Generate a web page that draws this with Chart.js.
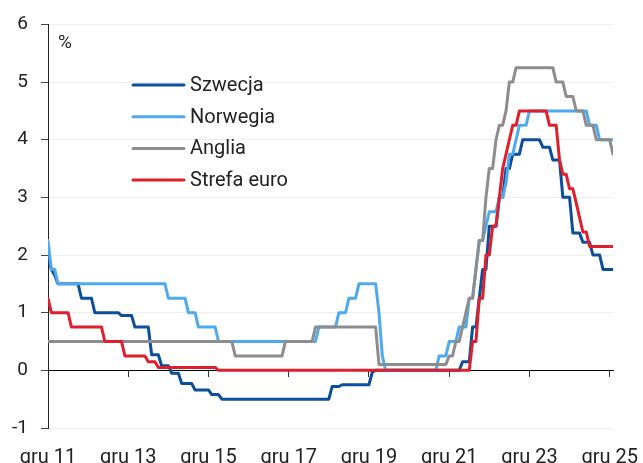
<!DOCTYPE html>
<html>
<head>
<meta charset="utf-8">
<script src="https://cdn.jsdelivr.net/npm/chart.js@4/dist/chart.umd.min.js"></script>
<style>
  html, body { margin: 0; padding: 0; background: #fff; }
</style>
</head>
<body>
<canvas id="chart" width="643" height="463"></canvas>
<script>
// x positions are months, index 0 = gru 11, one tick every 24 months
const tickLabels = ['gru 11', 'gru 13', 'gru 15', 'gru 17', 'gru 19', 'gru 21', 'gru 23', 'gru 25'];
const seriesNames = ['Szwecja', 'Norwegia', 'Anglia', 'Strefa euro'];
const seriesColors = ['#0b4f9c', '#4ea9ef', '#8d8d8d', '#e01f2d'];

const szwecja = [
  2.0,
  1.75, 1.65, 1.5, 1.5, 1.5, 1.5, 1.5, 1.5, 1.5, 1.25, 1.25, 1.25,
  1.25, 1.0, 1.0, 1.0, 1.0, 1.0, 1.0, 1.0, 1.0, 0.95, 0.95, 0.95,
  0.95, 0.75, 0.75, 0.75, 0.75, 0.75, 0.27, 0.27, 0.27, 0.08, 0.08, 0.08,
  -0.05, -0.05, -0.05, -0.23, -0.23, -0.23, -0.23, -0.34, -0.34, -0.34, -0.34, -0.34,
  -0.42, -0.42, -0.42, -0.5, -0.5, -0.5, -0.5, -0.5, -0.5, -0.5, -0.5, -0.5,
  -0.5, -0.5, -0.5, -0.5, -0.5, -0.5, -0.5, -0.5, -0.5, -0.5, -0.5, -0.5,
  -0.5, -0.5, -0.5, -0.5, -0.5, -0.5, -0.5, -0.5, -0.5, -0.5, -0.5, -0.5,
  -0.28, -0.28, -0.28, -0.25, -0.25, -0.25, -0.25, -0.25, -0.25, -0.25, -0.25, -0.25,
  -0.03, 0, 0, 0, 0, 0, 0, 0, 0, 0, 0, 0,
  0, 0, 0, 0, 0, 0, 0, 0, 0, 0, 0, 0,
  0, 0, 0, 0.15, 0.15, 0.15, 0.75, 0.75, 1.25, 1.75, 1.75, 2.5,
  2.5, 2.5, 3.0, 3.0, 3.5, 3.5, 3.75, 3.75, 3.75, 4.0, 4.0, 4.0,
  4.0, 4.0, 4.0, 3.87, 3.87, 3.87, 3.65, 3.65, 3.65, 3.0, 3.0, 3.0,
  2.38, 2.38, 2.38, 2.22, 2.22, 2.22, 2.0, 2.0, 2.0, 1.75, 1.75, 1.75,
  1.75
];

const norwegia = [
  2.25,
  1.75, 1.75, 1.5, 1.5, 1.5, 1.5, 1.5, 1.5, 1.5, 1.5, 1.5, 1.5,
  1.5, 1.5, 1.5, 1.5, 1.5, 1.5, 1.5, 1.5, 1.5, 1.5, 1.5, 1.5,
  1.5, 1.5, 1.5, 1.5, 1.5, 1.5, 1.5, 1.5, 1.5, 1.5, 1.5, 1.25,
  1.25, 1.25, 1.25, 1.25, 1.25, 1.0, 1.0, 1.0, 0.75, 0.75, 0.75, 0.75,
  0.75, 0.75, 0.5, 0.5, 0.5, 0.5, 0.5, 0.5, 0.5, 0.5, 0.5, 0.5,
  0.5, 0.5, 0.5, 0.5, 0.5, 0.5, 0.5, 0.5, 0.5, 0.5, 0.5, 0.5,
  0.5, 0.5, 0.5, 0.5, 0.5, 0.5, 0.5, 0.5, 0.75, 0.75, 0.75, 0.75,
  0.75, 0.75, 1.0, 1.0, 1.0, 1.25, 1.25, 1.25, 1.5, 1.5, 1.5, 1.5,
  1.5, 1.5, 1.0, 0.25, 0, 0, 0, 0, 0, 0, 0, 0,
  0, 0, 0, 0, 0, 0, 0, 0, 0.25, 0.25, 0.25, 0.5,
  0.5, 0.5, 0.75, 0.75, 0.75, 1.25, 1.25, 1.75, 2.25, 2.25, 2.5, 2.75,
  2.75, 2.75, 3.0, 3.0, 3.25, 3.75, 3.75, 4.0, 4.25, 4.25, 4.25, 4.5,
  4.5, 4.5, 4.5, 4.5, 4.5, 4.5, 4.5, 4.5, 4.5, 4.5, 4.5, 4.5,
  4.5, 4.5, 4.5, 4.5, 4.5, 4.25, 4.25, 4.25, 4.0, 4.0, 4.0, 4.0,
  4.0
];

const anglia = [
  0.5,
  0.5, 0.5, 0.5, 0.5, 0.5, 0.5, 0.5, 0.5, 0.5, 0.5, 0.5, 0.5,
  0.5, 0.5, 0.5, 0.5, 0.5, 0.5, 0.5, 0.5, 0.5, 0.5, 0.5, 0.5,
  0.5, 0.5, 0.5, 0.5, 0.5, 0.5, 0.5, 0.5, 0.5, 0.5, 0.5, 0.5,
  0.5, 0.5, 0.5, 0.5, 0.5, 0.5, 0.5, 0.5, 0.5, 0.5, 0.5, 0.5,
  0.5, 0.5, 0.5, 0.5, 0.5, 0.5, 0.5, 0.25, 0.25, 0.25, 0.25, 0.25,
  0.25, 0.25, 0.25, 0.25, 0.25, 0.25, 0.25, 0.25, 0.25, 0.25, 0.5, 0.5,
  0.5, 0.5, 0.5, 0.5, 0.5, 0.5, 0.5, 0.75, 0.75, 0.75, 0.75, 0.75,
  0.75, 0.75, 0.75, 0.75, 0.75, 0.75, 0.75, 0.75, 0.75, 0.75, 0.75, 0.75,
  0.75, 0.75, 0.1, 0.1, 0.1, 0.1, 0.1, 0.1, 0.1, 0.1, 0.1, 0.1,
  0.1, 0.1, 0.1, 0.1, 0.1, 0.1, 0.1, 0.1, 0.1, 0.1, 0.1, 0.25,
  0.25, 0.5, 0.5, 0.75, 1.0, 1.25, 1.25, 1.75, 2.25, 2.25, 3.0, 3.5,
  3.5, 4.0, 4.25, 4.25, 4.5, 5.0, 5.0, 5.25, 5.25, 5.25, 5.25, 5.25,
  5.25, 5.25, 5.25, 5.25, 5.25, 5.25, 5.25, 5.0, 5.0, 5.0, 4.75, 4.75,
  4.75, 4.5, 4.5, 4.5, 4.25, 4.25, 4.25, 4.0, 4.0, 4.0, 4.0, 4.0,
  3.75
];

const strefaEuro = [
  1.25,
  1.0, 1.0, 1.0, 1.0, 1.0, 1.0, 0.75, 0.75, 0.75, 0.75, 0.75, 0.75,
  0.75, 0.75, 0.75, 0.75, 0.5, 0.5, 0.5, 0.5, 0.5, 0.5, 0.25, 0.25,
  0.25, 0.25, 0.25, 0.25, 0.25, 0.15, 0.15, 0.15, 0.05, 0.05, 0.05, 0.05,
  0.05, 0.05, 0.05, 0.05, 0.05, 0.05, 0.05, 0.05, 0.05, 0.05, 0.05, 0.05,
  0.05, 0.05, 0, 0, 0, 0, 0, 0, 0, 0, 0, 0,
  0, 0, 0, 0, 0, 0, 0, 0, 0, 0, 0, 0,
  0, 0, 0, 0, 0, 0, 0, 0, 0, 0, 0, 0,
  0, 0, 0, 0, 0, 0, 0, 0, 0, 0, 0, 0,
  0, 0, 0, 0, 0, 0, 0, 0, 0, 0, 0, 0,
  0, 0, 0, 0, 0, 0, 0, 0, 0, 0, 0, 0,
  0, 0, 0, 0, 0, 0, 0.5, 0.5, 1.25, 1.25, 2.0, 2.0,
  2.5, 2.5, 3.0, 3.5, 3.75, 4.0, 4.25, 4.25, 4.5, 4.5, 4.5, 4.5,
  4.5, 4.5, 4.5, 4.5, 4.5, 4.25, 4.25, 4.25, 3.65, 3.4, 3.4, 3.15,
  3.15, 2.9, 2.65, 2.4, 2.4, 2.15, 2.15, 2.15, 2.15, 2.15, 2.15, 2.15,
  2.15
];

const seriesValues = [szwecja, norwegia, anglia, strefaEuro];
// lower order is drawn on top
const drawOrder = [4, 3, 2, 1];

const FONT = 'Roboto, "Liberation Sans", sans-serif';
const lastIndex = szwecja.length - 1;

// legend and the "%" unit, drawn inside the plot like the original
const overlay = {
  id: 'overlay',
  afterDraw(chart) {
    const ctx = chart.ctx;
    ctx.save();
    ctx.fillStyle = '#222';
    ctx.font = '19px ' + FONT;
    ctx.textAlign = 'left';
    ctx.textBaseline = 'middle';
    ctx.fillText('%', 58, 43);

    ctx.font = '20px ' + FONT;
    chart.data.datasets.forEach((ds, i) => {
      const y = 85 + i * 31.7;
      ctx.strokeStyle = ds.borderColor;
      ctx.lineWidth = 3;
      ctx.lineCap = 'round';
      ctx.beginPath();
      ctx.moveTo(133, y);
      ctx.lineTo(184, y);
      ctx.stroke();
      ctx.fillStyle = '#222';
      ctx.fillText(ds.label, 190, y + 1);
    });
    ctx.restore();
  }
};

new Chart(document.getElementById('chart'), {
  type: 'line',
  data: {
    datasets: seriesNames.map((name, i) => ({
      label: name,
      data: seriesValues[i].map((v, k) => ({ x: k, y: v })),
      borderColor: seriesColors[i],
      backgroundColor: seriesColors[i],
      borderWidth: 3,
      pointRadius: 0,
      tension: 0,
      borderJoinStyle: 'round',
      borderCapStyle: 'round',
      order: drawOrder[i]
    }))
  },
  options: {
    responsive: false,
    animation: false,
    devicePixelRatio: 1,
    layout: { padding: { top: 24, right: 30, left: 0, bottom: 0 } },
    plugins: { legend: { display: false }, tooltip: { enabled: false } },
    scales: {
      x: {
        type: 'linear',
        position: 'bottom',
        min: 0,
        max: lastIndex,
        grid: { display: false, drawTicks: false },
        border: { display: false },
        ticks: {
          stepSize: 24,
          autoSkip: false,
          includeBounds: false,
          maxRotation: 0,
          padding: 18,
          color: '#222',
          font: { family: FONT, size: 20 },
          callback: (v) => tickLabels[v / 24]
        },
        afterFit: (s) => { s.height = 35; s.paddingLeft = 0; s.paddingRight = 0; }
      },
      xZero: {
        type: 'linear',
        position: { y: 0 },
        min: 0,
        max: lastIndex,
        grid: { display: true, drawOnChartArea: false, drawTicks: true, tickLength: 6, tickColor: '#333' },
        border: { display: true, color: '#000', width: 1 },
        ticks: { display: false, stepSize: 24, includeBounds: false, autoSkip: false },
        afterFit: (s) => { s.paddingLeft = 0; s.paddingRight = 0; }
      },
      y: {
        min: -1,
        max: 6,
        ticks: {
          stepSize: 1,
          padding: 13,
          color: '#222',
          font: { family: FONT, size: 19 }
        },
        grid: {
          color: (c) => (c.tick && c.tick.value === 0 ? 'rgba(0,0,0,0)' : '#eeeeee'),
          tickColor: '#444',
          tickLength: 7,
          lineWidth: 1
        },
        border: { display: true, color: '#222', width: 1 },
        afterFit: (s) => { s.width = 48; }
      }
    }
  },
  plugins: [overlay]
});
</script>
</body>
</html>
